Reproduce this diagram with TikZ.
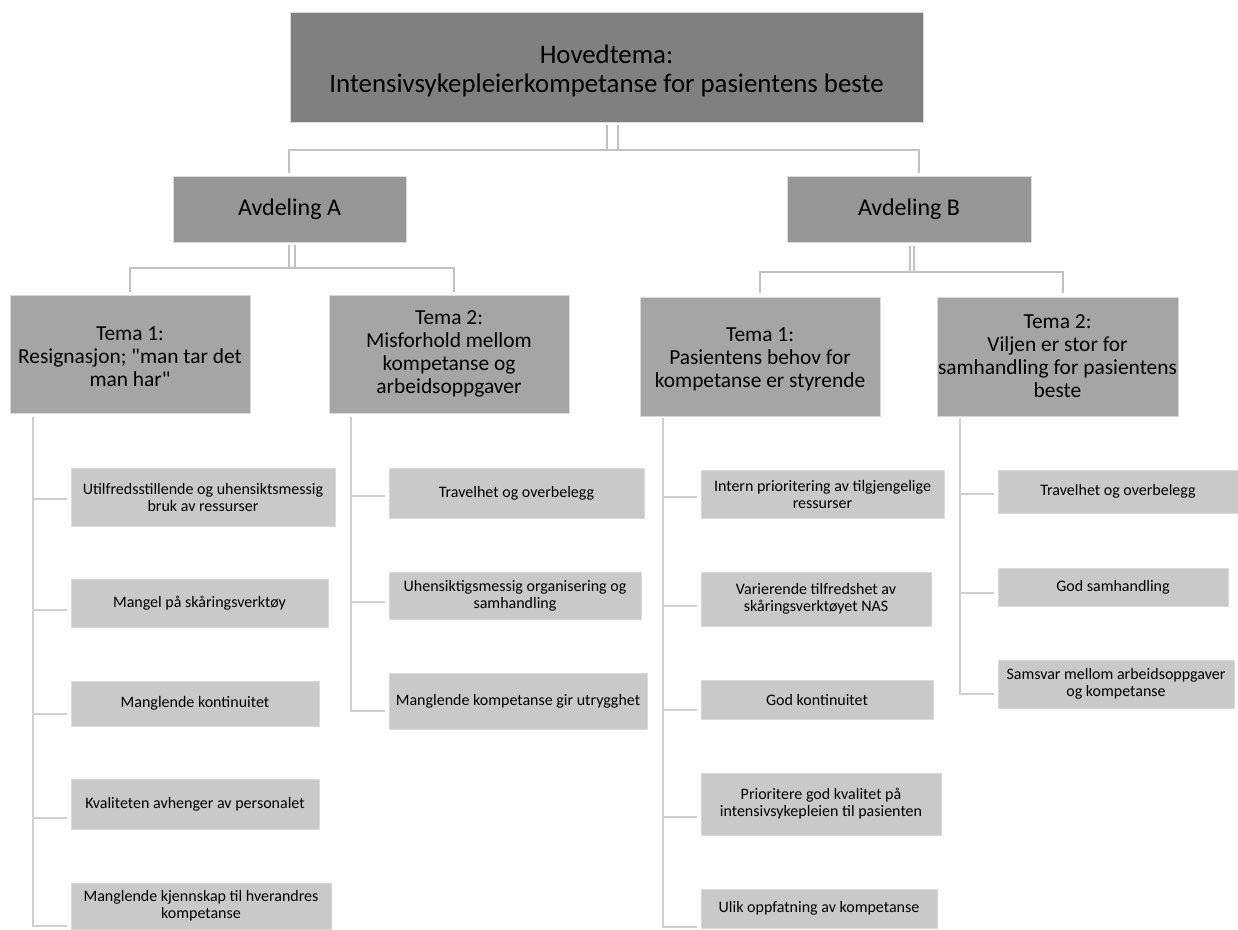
\documentclass[tikz,border=0pt]{standalone}
\usepackage{fontspec}
\setmainfont{Carlito}[Ligatures=TeXOff]
\usetikzlibrary{calc}
\definecolor{cTop}{HTML}{808080}
\definecolor{cDep}{HTML}{969696}
\definecolor{cTema}{HTML}{A5A5A5}
\definecolor{cLeaf}{HTML}{C9C9C9}
\definecolor{cEdge}{HTML}{DADADA}
\definecolor{cConn}{HTML}{C2C2C2}
\definecolor{cConnL}{HTML}{CFCFCF}
\newcommand\mybox[7]{\node[#1, minimum width={(#5-#3)*1pt}, minimum height={(#6-#4)*1pt}] (#2) at ({(#3+#5)/2},{(#4+#6)/2}) {#7};}
\newcommand\lconn[3]{\draw[connleaf] (#1) |- ($(#2.west)+(-4,#3)$);}
\begin{document}
\begin{tikzpicture}[x=1pt,y=-1pt,
  base/.style={inner sep=0pt, outer sep=0pt, align=center, draw=cEdge, line width=0.8pt, text=black},
  lvltop/.style={base, fill=cTop, font=\fontsize{26.8}{29.5}\selectfont},
  lvldep/.style={base, fill=cDep, font=\fontsize{24}{29}\selectfont},
  lvltema/.style={base, fill=cTema, font=\fontsize{21.4}{23}\selectfont},
  leaf/.style={base, fill=cLeaf, font=\fontsize{16}{17}\selectfont},
  conn/.style={draw=cConn, line width=2.8pt},
  connleaf/.style={draw=cConnL, line width=2.8pt}]
\useasboundingbox (0,0) rectangle (1238,929);

% level 0
\mybox{lvltop}{top}{290}{12}{923}{122}{\rule{0pt}{26pt}Hovedtema:\\Intensivsykepleierkompetanse for pasientens beste}
% level 1
\mybox{lvldep}{avA}{173}{176}{406}{242}{Avdeling A}
\mybox{lvldep}{avB}{787}{176}{1031}{242}{Avdeling B}
% level 2
\mybox{lvltema}{tA1}{10}{295}{250}{413}{\rule{0pt}{19pt}Tema 1:\\Resignasjon; "man tar det\\man har"}
\mybox{lvltema}{tA2}{329}{295}{569}{413}{Tema 2:\\Misforhold mellom\\kompetanse og\\arbeidsoppgaver}
\mybox{lvltema}{tB1}{640}{297}{880}{416}{\rule{0pt}{19pt}Tema 1:\\Pasientens behov for\\kompetanse er styrende}
\mybox{lvltema}{tB2}{937}{297}{1178}{416}{Tema 2:\\Viljen er stor for\\samhandling for pasientens\\beste}

% leaves A1
\mybox{leaf}{a1}{71}{468}{335}{526}{Utilfredsstillende og uhensiktsmessig\\bruk av ressurser}
\mybox{leaf}{a2}{71}{579}{328}{627}{Mangel på skåringsverktøy}
\mybox{leaf}{a3}{71}{681}{319}{726}{Manglende kontinuitet}
\mybox{leaf}{a4}{71}{779}{319}{829}{Kvaliteten avhenger av personalet}
\mybox{leaf}{a5}{71}{883}{331}{929}{Manglende kjennskap til hverandres\\kompetanse}
% leaves A2
\mybox{leaf}{b1}{389}{468}{644}{518}{Travelhet og overbelegg}
\mybox{leaf}{b2}{389}{572}{641}{619}{Uhensiktigsmessig organisering og\\samhandling}
\mybox{leaf}{b3}{389}{673}{647}{729}{Manglende kompetanse gir utrygghet}
% leaves B1
\mybox{leaf}{c1}{701}{470}{944}{518}{Intern prioritering av tilgjengelige\\ressurser}
\mybox{leaf}{c2}{701}{572}{931}{626}{Varierende tilfredshet av\\skåringsverktøyet NAS}
\mybox{leaf}{c3}{701}{680}{933}{719}{God kontinuitet}
\mybox{leaf}{c4}{701}{773}{941}{835}{Prioritere god kvalitet på\\intensivsykepleien til pasienten}
\mybox{leaf}{c5}{701}{889}{937}{928}{Ulik oppfatning av kompetanse}
% leaves B2
\mybox{leaf}{d1}{998}{470}{1238}{513}{Travelhet og overbelegg}
\mybox{leaf}{d2}{998}{568}{1228}{606}{God samhandling}
\mybox{leaf}{d3}{998}{660}{1234}{708}{Samsvar mellom arbeidsoppgaver\\og kompetanse}

% connectors level 0 -> 1
\draw[conn] ($(top.south)+(11.5,3)$) -- ($(top.south)+(11.5,28)$) -| ($(avA.north)+(-0.5,-3)$);
\draw[conn] ($(top.south)+(0.5,3)$) -- ($(top.south)+(0.5,28)$) -| ($(avB.north)+(10,-3)$);
% connectors level 1 -> 2
\draw[conn] ($(avA.south)+(5.5,3)$) -- ($(avA.south)+(5.5,26)$) -| ($(tA1.north)+(0,-3)$);
\draw[conn] ($(avA.south)+(-0.5,3)$) -- ($(avA.south)+(-0.5,26)$) -| ($(tA2.north)+(5,-3)$);
\draw[conn] ($(avB.south)+(5,4)$) -- ($(avB.south)+(5,30)$) -| ($(tB1.north)+(0,-4)$);
\draw[conn] ($(avB.south)+(1,4)$) -- ($(avB.south)+(1,30)$) -| ($(tB2.north)+(5.5,-4)$);

% leaf connectors
\coordinate (vA1) at ($(tA1.south)+(-97,4)$);
\coordinate (vA2) at ($(tA2.south)+(-98,4)$);
\coordinate (vB1) at ($(tB1.south)+(-97,2)$);
\coordinate (vB2) at ($(tB2.south)+(-97.5,2)$);
\lconn{vA1}{a1}{2}
\lconn{vA1}{a2}{7}
\lconn{vA1}{a3}{10.5}
\lconn{vA1}{a4}{14}
\lconn{vA1}{a5}{20}
\lconn{vA2}{b1}{3}
\lconn{vA2}{b2}{6.5}
\lconn{vA2}{b3}{10}
\lconn{vB1}{c1}{3}
\lconn{vB1}{c2}{7}
\lconn{vB1}{c3}{10.5}
\lconn{vB1}{c4}{13}
\lconn{vB1}{c5}{18.5}
\lconn{vB2}{d1}{2.5}
\lconn{vB2}{d2}{6}
\lconn{vB2}{d3}{10}
\end{tikzpicture}
\end{document}
